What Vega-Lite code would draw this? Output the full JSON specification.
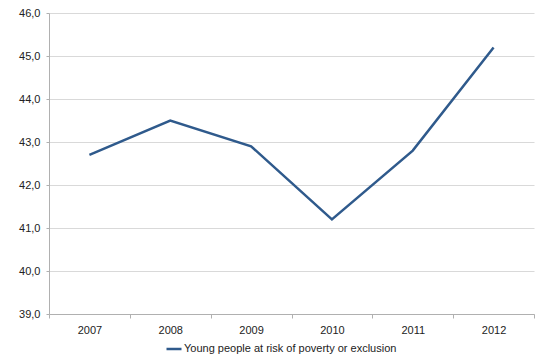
{
  "$schema": "https://vega.github.io/schema/vega-lite/v6.json",
  "width": 485,
  "height": 301,
  "autosize": {"type": "none"},
  "padding": {"left": 49, "top": 13, "right": 9, "bottom": 41},
  "background": "white",
  "config": {
    "view": {"stroke": null},
    "font": "Liberation Sans",
    "axis": {"labelFont": "Liberation Sans", "labelFontSize": 11, "labelColor": "#222222", "domainColor": "#b0b0b0", "tickColor": "#b0b0b0", "gridColor": "#d9d9d9"}
  },
  "data": {
    "values": [
      {"year": "2007", "value": 42.7, "series": "Young people at risk of poverty or exclusion"},
      {"year": "2008", "value": 43.5, "series": "Young people at risk of poverty or exclusion"},
      {"year": "2009", "value": 42.9, "series": "Young people at risk of poverty or exclusion"},
      {"year": "2010", "value": 41.2, "series": "Young people at risk of poverty or exclusion"},
      {"year": "2011", "value": 42.8, "series": "Young people at risk of poverty or exclusion"},
      {"year": "2012", "value": 45.2, "series": "Young people at risk of poverty or exclusion"}
    ]
  },
  "mark": {"type": "line", "strokeWidth": 2.5},
  "encoding": {
    "x": {
      "field": "year", "type": "ordinal", "bandPosition": 0.5,
      "scale": {"type": "band", "paddingInner": 0, "paddingOuter": 0},
      "axis": {"title": null, "labelAngle": 0, "tickBand": "extent", "tickSize": 4, "labelPadding": 6, "grid": false}
    },
    "y": {
      "field": "value", "type": "quantitative",
      "scale": {"domain": [39, 46], "nice": false, "zero": false},
      "axis": {"title": null, "values": [39,40,41,42,43,44,45,46], "labelOverlap": false, "labelFlush": false, "labelExpr": "replace(format(datum.value, '.1f'), '.', ',')", "tickSize": 3, "labelPadding": 6, "grid": true}
    },
    "color": {
      "field": "series", "type": "nominal",
      "scale": {"range": ["#2f5a8c"]},
      "legend": {"title": null, "orient": "none", "legendX": 116, "legendY": 327, "symbolType": "stroke", "symbolSize": 225, "symbolStrokeWidth": 2.5, "labelFont": "Liberation Sans", "labelFontSize": 11, "labelColor": "#222222", "labelOffset": 1, "labelLimit": 400}
    }
  }
}
